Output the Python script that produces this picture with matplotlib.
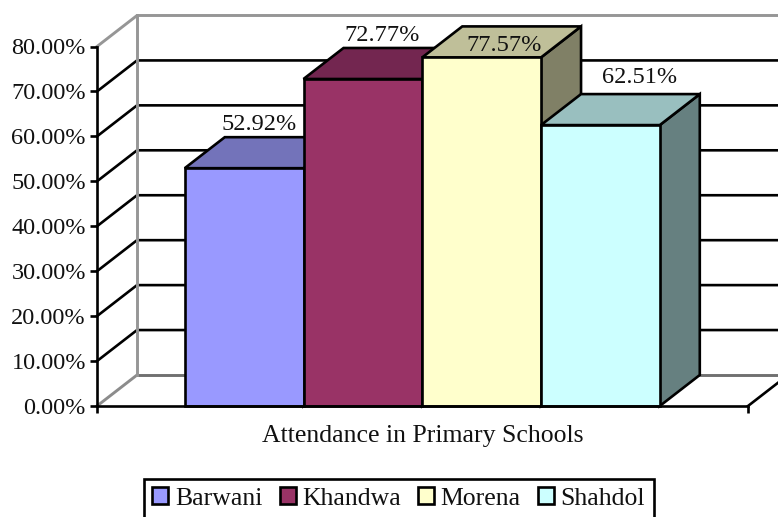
import matplotlib
matplotlib.use("Agg")
import matplotlib.pyplot as plt
from matplotlib.patches import Polygon, Patch

plt.rcParams['font.family'] = ['Liberation Serif', 'DejaVu Serif']

districts = ['Barwani', 'Khandwa', 'Morena', 'Shahdol']
attendance = [52.92, 72.77, 77.57, 62.51]
labels = ['52.92%', '72.77%', '77.57%', '62.51%']
y_ticks = [0, 10, 20, 30, 40, 50, 60, 70, 80]
y_tick_labels = ['0.00%', '10.00%', '20.00%', '30.00%', '40.00%', '50.00%', '60.00%', '70.00%', '80.00%']

front = ['#9999FF', '#993366', '#FFFFCC', '#CCFFFF']
top = ['#7373BA', '#732650', '#BFBF99', '#99BFBF']
side = ['#5C5C99', '#5C1F3D', '#808066', '#668080']
label_offset = [(14.5, 44), (19, 43), (22.5, 12), (39, 48)]  # pixels from top of bar

W, H = 778, 517
fig = plt.figure(figsize=(W / 100, H / 100), dpi=100)
ax = fig.add_axes([97 / W, (H - 406) / H, 651 / W, 359.5 / H])
ax.patch.set_visible(False)

bar_w = 1.0
x_start = 0.739
x_max = 5.482
dx = 0.337  # 3d depth in x units
dy = 6.9    # 3d depth in y units
lw = 1.9
ax.set_xlim(0, x_max)
ax.set_ylim(0, 80)

# back wall and side wall
for v in y_ticks[1:-1]:
    ax.plot([0, dx, x_max + dx], [v, v + dy, v + dy], color='black', lw=lw, clip_on=False, zorder=1)
ax.plot([0, dx, x_max + dx], [80, 80 + dy, 80 + dy], color='#969696', lw=2.1, clip_on=False, zorder=1)
ax.plot([dx, dx], [dy, 80 + dy], color='#969696', lw=2.1, clip_on=False, zorder=1.5)
ax.plot([0, dx], [0, dy], color='#8c8c8c', lw=2.1, clip_on=False, zorder=1)
ax.plot([dx, x_max + dx], [dy, dy], color='#707070', lw=2.1, clip_on=False, zorder=1)
ax.plot([x_max, x_max + dx], [0, dy], color='black', lw=lw, clip_on=False, zorder=1)

# bars, left to right so each one covers the one before
for i, val in enumerate(attendance):
    x0 = x_start + i * bar_w
    x1 = x0 + bar_w
    z = 2 + i
    kw = dict(edgecolor='black', lw=lw, joinstyle='miter', clip_on=False, zorder=z)
    ax.add_patch(Polygon([(x1, 0), (x1 + dx, dy), (x1 + dx, val + dy), (x1, val)], facecolor=side[i], **kw))
    ax.add_patch(Polygon([(x0, val), (x0 + dx, val + dy), (x1 + dx, val + dy), (x1, val)], facecolor=top[i], **kw))
    ax.add_patch(Polygon([(x0, 0), (x0, val), (x1, val), (x1, 0)], facecolor=front[i], **kw))

for i, val in enumerate(attendance):
    ax.annotate(labels[i], (x_start + (i + 0.5) * bar_w, val), xytext=label_offset[i],
                textcoords='offset pixels', ha='center', va='center',
                fontsize=17.5, color='#111111', zorder=10, annotation_clip=False)

for s in ['top', 'right']:
    ax.spines[s].set_visible(False)
for s in ['left', 'bottom']:
    ax.spines[s].set_linewidth(lw)
    ax.spines[s].set_zorder(8)
ax.set_yticks(y_ticks)
ax.set_yticklabels(y_tick_labels, fontsize=17.5, color='#111111')
ax.set_xticks([0, x_max])
ax.set_xticklabels([])
ax.tick_params(axis='both', width=lw, length=5, pad=3)
ax.set_xlabel('Attendance in Primary Schools', fontsize=18.5, color='#111111', labelpad=5.5)

handles = [Patch(facecolor=front[i], edgecolor='black', lw=lw, label=districts[i]) for i in range(4)]
leg = fig.legend(handles=handles, loc='upper left', bbox_to_anchor=(144 / W, 1 - 479 / H),
                 bbox_transform=fig.transFigure, ncols=4, fontsize=18.5, fancybox=False,
                 framealpha=1, edgecolor='black', borderaxespad=0, borderpad=0.33,
                 handlelength=0.62, handleheight=0.6, handletextpad=0.25, columnspacing=0.68,
                 labelcolor='#111111')
leg.get_frame().set_linewidth(lw)

fig.savefig('out.png', dpi=100)
